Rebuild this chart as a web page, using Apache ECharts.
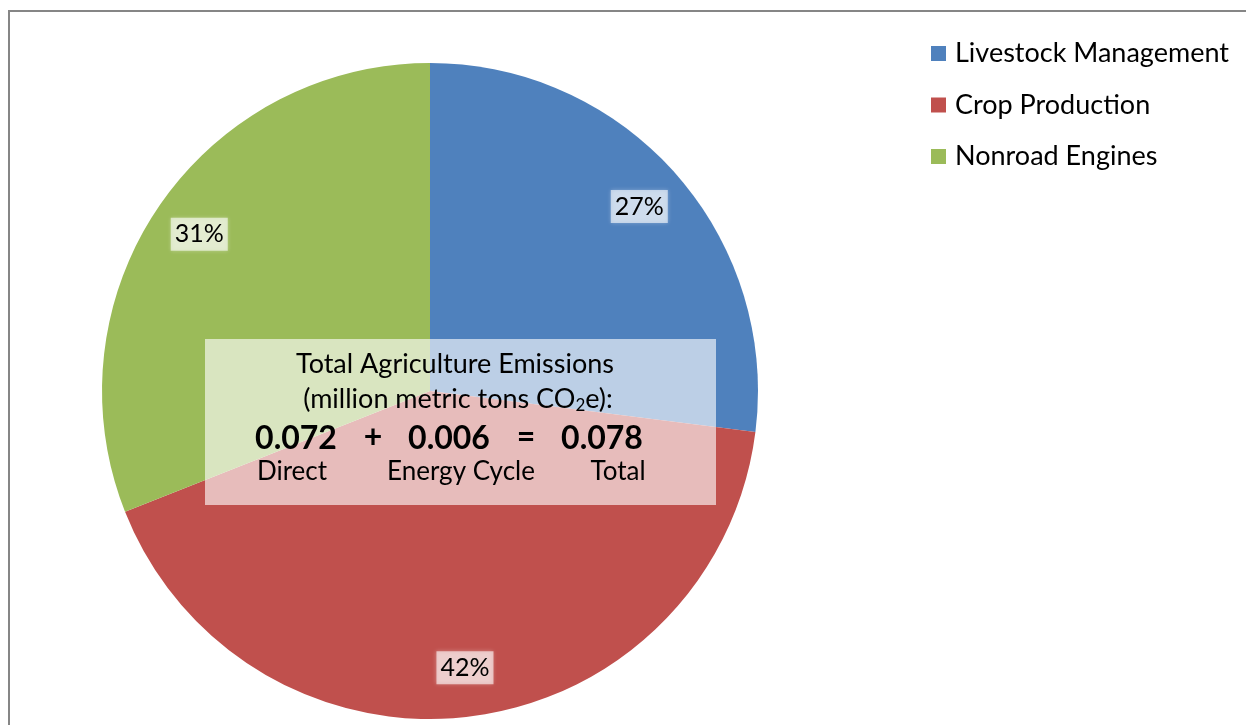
<!DOCTYPE html>
<html>
<head>
<meta charset="utf-8">
<script src="https://cdn.jsdelivr.net/npm/echarts@6/dist/echarts.min.js"></script>
<style>
  html, body { margin: 0; padding: 0; background: #fff; }
  #chart { width: 1246px; height: 725px; }
</style>
</head>
<body>
<div id="chart"></div>
<script>
// Agriculture emission shares by source (percent)
const categories = ['Livestock Management', 'Crop Production', 'Nonroad Engines'];
const shares = [27, 42, 31];
const sliceColors = ['#4F81BD', '#C0504D', '#9BBB59'];

// Totals shown in the centre panel (million metric tons CO2e)
const totalValues = [0.072, 0.006, 0.078];
const totalParts = ['Direct', 'Energy Cycle', 'Total'];
const totalOps = ['+', '='];

const FONT = 'Lato, "Open Sans", sans-serif';
const pieCenter = [430, 391];
const pieRadius = 328;

const sliceData = categories.map((name, i) => ({ name, value: shares[i] }));

// centre panel layout
const panel = { x: 205, y: 339, w: 511, h: 166 };
const numCenters = [296, 449, 602];
const partCenters = [292, 461, 618];
const opCenters = [373, 526];
const TOP = 100;

const panelElements = [
  { type: 'rect', z: TOP, silent: true,
    shape: { x: panel.x, y: panel.y, width: panel.w, height: panel.h },
    style: { fill: 'rgba(255,255,255,0.62)' } },
  { type: 'text', z: TOP + 1, silent: true, x: 455, y: 364,
    style: { text: 'Total Agriculture Emissions', fontSize: 27, fontFamily: FONT, fill: '#000',
             align: 'center', verticalAlign: 'middle' } },
  { type: 'text', z: TOP + 1, silent: true, x: 458, y: 399,
    style: { text: '(million metric tons CO{sub|2}e):', fontSize: 27, fontFamily: FONT, fill: '#000',
             align: 'center', verticalAlign: 'middle',
             rich: { sub: { fontSize: 17, fontFamily: FONT, fill: '#000', padding: [14, 0, 0, 0] } } } }
];
totalValues.forEach((v, i) => {
  panelElements.push({ type: 'text', z: TOP + 1, silent: true, x: numCenters[i], y: 439,
    style: { text: v.toFixed(3), fontSize: 32, fontWeight: 'bold', fontFamily: FONT, fill: '#000',
             align: 'center', verticalAlign: 'middle' } });
  panelElements.push({ type: 'text', z: TOP + 1, silent: true, x: partCenters[i], y: 472,
    style: { text: totalParts[i], fontSize: 26, fontFamily: FONT, fill: '#000',
             align: 'center', verticalAlign: 'middle' } });
});
totalOps.forEach((op, i) => {
  panelElements.push({ type: 'text', z: TOP + 1, silent: true, x: opCenters[i], y: 438,
    style: { text: op, fontSize: 32, fontWeight: 'bold', fontFamily: FONT, fill: '#000',
             align: 'center', verticalAlign: 'middle' } });
});

const chart = echarts.init(document.getElementById('chart'), null, { renderer: 'canvas' });
chart.setOption({
  animation: false,
  backgroundColor: '#fff',
  color: sliceColors,
  legend: {
    data: categories,
    orient: 'vertical',
    left: 931,
    top: 40,
    padding: 0,
    icon: 'rect',
    itemWidth: 15,
    itemHeight: 15,
    itemGap: 24.5,
    selectedMode: false,
    textStyle: { fontFamily: FONT, fontSize: 27, color: '#000', lineHeight: 27, padding: [0, 0, 0, 4] }
  },
  graphic: [
    { type: 'rect', z: 0, silent: true,
      shape: { x: 9, y: 11, width: 1400, height: 900 },
      style: { fill: 'none', stroke: '#868686', lineWidth: 2 } }
  ].concat(panelElements),
  series: [
    {
      type: 'pie',
      center: pieCenter,
      radius: [0, pieRadius],
      startAngle: 90,
      clockwise: true,
      avoidLabelOverlap: false,
      silent: true,
      emphasis: { disabled: true },
      label: { show: false },
      labelLine: { show: false },
      itemStyle: { borderWidth: 0 },
      data: sliceData
    },
    {
      // transparent ring used only to place the percentage labels
      type: 'pie',
      center: pieCenter,
      radius: [224, pieRadius],
      startAngle: 90,
      clockwise: true,
      avoidLabelOverlap: false,
      silent: true,
      emphasis: { disabled: true },
      itemStyle: { color: 'rgba(0,0,0,0)', borderWidth: 0 },
      labelLine: { show: false },
      label: {
        show: true,
        position: 'inside',
        formatter: '{c}%',
        fontFamily: FONT,
        fontSize: 25,
        color: '#000',
        backgroundColor: 'rgba(255,255,255,0.6)',
        padding: [6, 4, 2, 4],
        shadowColor: 'rgba(255,255,255,0.5)',
        shadowBlur: 4
      },
      z: 5,
      data: sliceData
    }
  ]
});
</script>
</body>
</html>
